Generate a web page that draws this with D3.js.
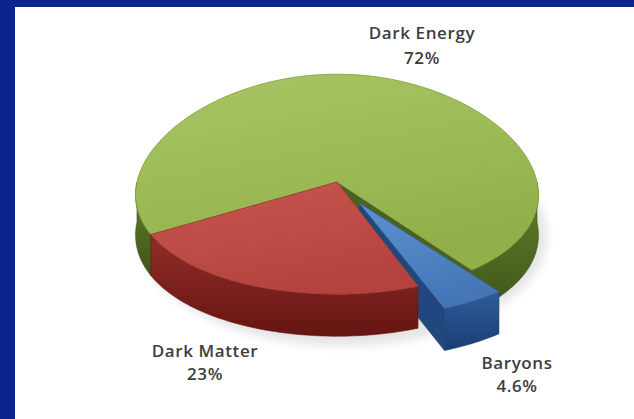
<!DOCTYPE html>
<html>
<head>
<meta charset="utf-8">
<script src="https://cdn.jsdelivr.net/npm/d3@7"></script>
<style>
  html, body { margin: 0; padding: 0; background: #0c2490; }
  svg { display: block; }
</style>
</head>
<body>
<svg id="chart" width="634" height="419"></svg>
<script>
// Composition of the universe
const categories = ["Dark Energy", "Dark Matter", "Baryons"];
const values = [72, 23, 4.6];
const valueLabels = ["72%", "23%", "4.6%"];

const W = 634, H = 419;
const svg = d3.select("#chart");

// Panel frame
svg.append("rect").attr("width", W).attr("height", H).attr("fill", "#0c2490");
svg.append("rect").attr("x", 15).attr("y", 7).attr("width", W - 15).attr("height", H - 7).attr("fill", "#ffffff");

// Tilted pie geometry with a little perspective (front wider than back)
const cx = 337, cy = 182, rx = 200, ry = 110, depth = 40;
const kx = 0.12, ky = 0.02;
const explodedName = "Baryons", explodeFrac = 0.22;

const palette = {
  "Dark Energy": { top: ["#a8c663", "#92b04a"], side: ["#61802c", "#3f5519"], wall: "#4a6120", edge: "#7e9c3c" },
  "Dark Matter": { top: ["#c9564f", "#b4433f"], side: ["#922d29", "#651512"], wall: "#7a1f1b", edge: "#9f3834" },
  "Baryons":     { top: ["#5c91d2", "#4577b8"], side: ["#2d5c9a", "#1b3e72"], wall: "#21477e", edge: "#3a68a6" }
};

// Slices run counter-clockwise, the Baryons wedge sitting at the lower right
const startDeg = 142;
const pie = d3.pie().sort(null).value(d => d.value)
  .startAngle(startDeg * Math.PI / 180)
  .endAngle(startDeg * Math.PI / 180 - 2 * Math.PI);
const slices = pie(categories.map((c, i) => ({ name: c, value: values[i], label: valueLabels[i] })));

const defs = svg.append("defs");
categories.forEach((c, i) => {
  const p = palette[c];
  const gt = defs.append("linearGradient").attr("id", "top" + i)
    .attr("x1", 0).attr("y1", 0).attr("x2", 0.4).attr("y2", 1);
  gt.append("stop").attr("offset", 0).attr("stop-color", p.top[0]);
  gt.append("stop").attr("offset", 1).attr("stop-color", p.top[1]);
  const gs = defs.append("linearGradient").attr("id", "side" + i)
    .attr("x1", 0).attr("y1", 0).attr("x2", 0).attr("y2", 1);
  gs.append("stop").attr("offset", 0).attr("stop-color", p.side[0]);
  gs.append("stop").attr("offset", 1).attr("stop-color", p.side[1]);
});
const blur = defs.append("filter").attr("id", "soft").attr("x", -0.2).attr("y", -0.5).attr("width", 1.4).attr("height", 2);
blur.append("feGaussianBlur").attr("stdDeviation", 5);

// (angle, radius fraction, drop below the top face) -> page coordinates
function proj(a, r, z, off) {
  const X = r * Math.sin(a) + off[0];
  const Y = -r * Math.cos(a) + off[1];
  return [cx + rx * X * (1 + kx * Y), cy + ry * Y * (1 + ky * Y) + z * (1 + 0.05 * Y)];
}
function arcPoints(a0, a1, z, off) {
  const n = Math.max(2, Math.ceil(Math.abs(a1 - a0) / 0.02));
  return d3.range(n + 1).map(k => proj(a0 + (a1 - a0) * k / n, 1, z, off));
}
const line = d3.line();

const items = slices.map((s, i) => {
  const a0 = Math.min(s.startAngle, s.endAngle);
  const a1 = Math.max(s.startAngle, s.endAngle);
  const mid = (a0 + a1) / 2;
  const f = s.data.name === explodedName ? explodeFrac : 0;
  const off = [f * Math.sin(mid), -f * Math.cos(mid)];
  const frontY = proj(mid, 1, 0, off)[1];
  return { s, i, a0, a1, mid, off, frontY, p: palette[s.data.name] };
}).sort((a, b) => a.frontY - b.frontY);

// soft floor shadow
svg.append("ellipse").attr("cx", cx + 6).attr("cy", cy + depth + 14).attr("rx", rx + 4).attr("ry", ry)
  .attr("fill", "#000").attr("opacity", 0.1).attr("filter", "url(#soft)");

const g = svg.append("g");

// cut faces of the wedges go behind every top and rim
const walls = g.append("g").attr("class", "walls");
items.forEach(it => {
  const { a0, a1, off, p } = it;
  [[a0, Math.sin(a0) < 0], [a1, Math.sin(a1) > 0]].forEach(([a, vis]) => {
    if (!vis) return;
    const pts = [proj(a, 0, 0, off), proj(a, 1, 0, off), proj(a, 1, depth, off), proj(a, 0, depth, off)];
    walls.append("path").attr("d", line(pts) + "Z").attr("fill", p.wall).attr("stroke", p.wall).attr("stroke-width", 0.6);
  });
});

items.forEach(it => {
  const { i, a0, a1, off, p } = it;
  const sg = g.append("g").attr("class", "slice");

  // rim on the front half
  const ranges = [];
  [[Math.PI / 2, 3 * Math.PI / 2], [-3 * Math.PI / 2, -Math.PI / 2], [5 * Math.PI / 2, 7 * Math.PI / 2]].forEach(([lo, hi]) => {
    const b0 = Math.max(lo, a0), b1 = Math.min(hi, a1);
    if (b1 > b0) ranges.push([b0, b1]);
  });
  ranges.forEach(([b0, b1]) => {
    const topPts = arcPoints(b0, b1, 0, off);
    const botPts = arcPoints(b1, b0, depth, off);
    sg.append("path").attr("d", line(topPts.concat(botPts)) + "Z")
      .attr("fill", `url(#side${i})`).attr("stroke", p.side[1]).attr("stroke-width", 0.6);
  });

  // top face
  const topFace = [proj(0, 0, 0, off)].concat(arcPoints(a0, a1, 0, off));
  sg.append("path").attr("d", line(topFace) + "Z")
    .attr("fill", `url(#top${i})`).attr("stroke", p.edge).attr("stroke-width", 0.8).attr("stroke-linejoin", "round");
});

// Labels
const labelPos = {
  "Dark Energy": [422, 39, 25],
  "Dark Matter": [205, 357, 23],
  "Baryons": [517, 369, 23]
};
const lab = svg.append("g").attr("font-family", "'Open Sans', sans-serif").attr("font-weight", 600)
  .attr("font-size", 17).attr("letter-spacing", 0.6).attr("fill", "#3d3d3d").attr("text-anchor", "middle");
slices.forEach(s => {
  const [x, y, dy] = labelPos[s.data.name];
  const t = lab.append("text").attr("x", x).attr("y", y);
  t.append("tspan").attr("x", x).text(s.data.name);
  t.append("tspan").attr("x", x).attr("dy", dy).text(s.data.label);
});
</script>
</body>
</html>
